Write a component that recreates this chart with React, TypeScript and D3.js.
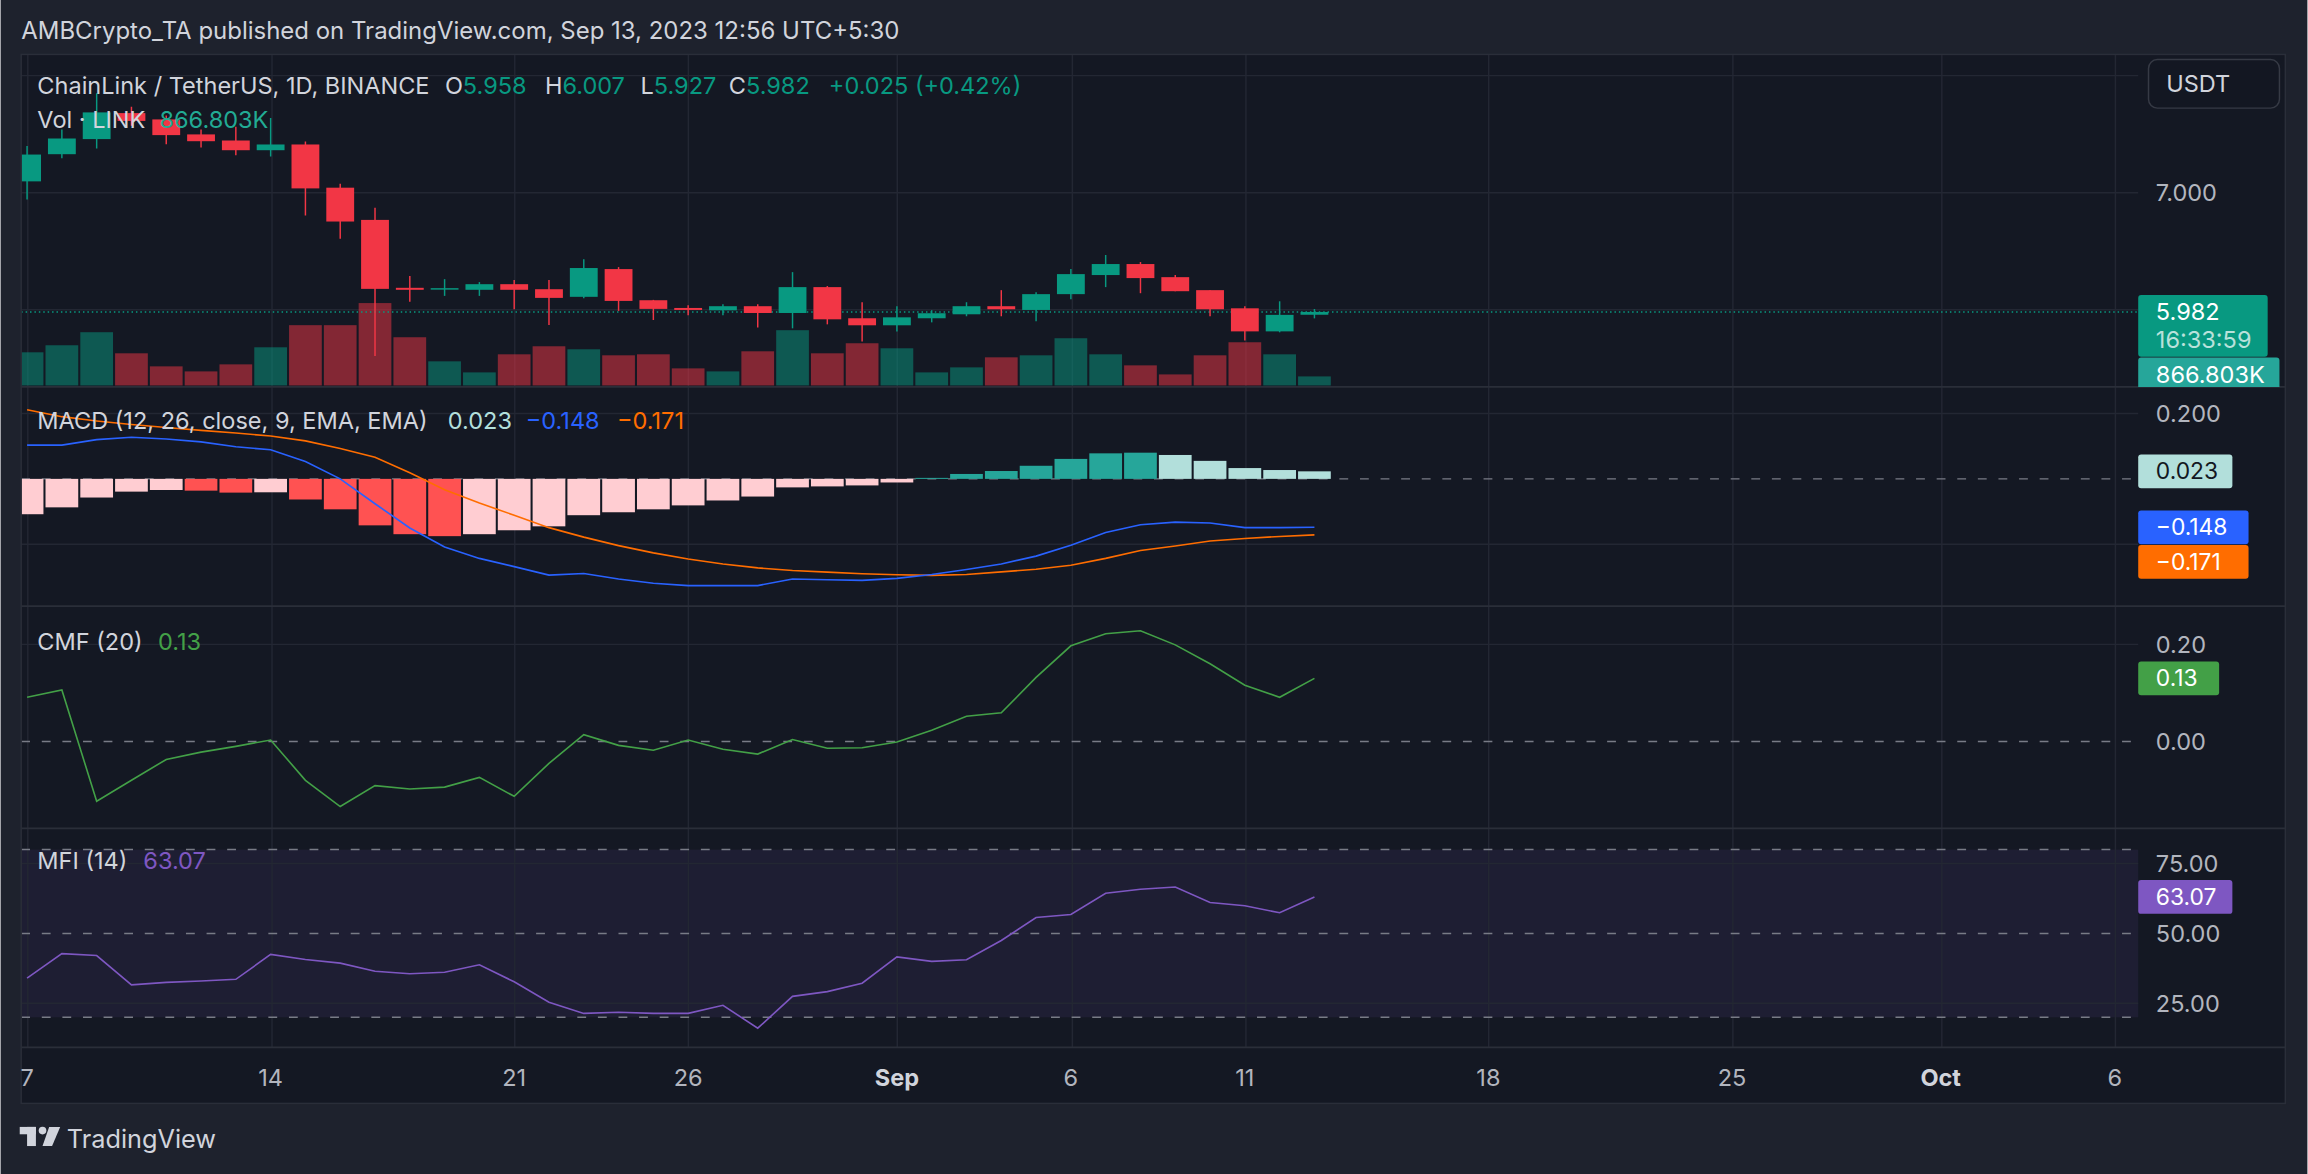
import React from "react";
import * as d3 from "d3";

const W = 1568;
const H = 798;

const dates = [
  "2023-08-07","2023-08-08","2023-08-09","2023-08-10","2023-08-11","2023-08-12","2023-08-13",
  "2023-08-14","2023-08-15","2023-08-16","2023-08-17","2023-08-18","2023-08-19","2023-08-20",
  "2023-08-21","2023-08-22","2023-08-23","2023-08-24","2023-08-25","2023-08-26","2023-08-27",
  "2023-08-28","2023-08-29","2023-08-30","2023-08-31","2023-09-01","2023-09-02","2023-09-03",
  "2023-09-04","2023-09-05","2023-09-06","2023-09-07","2023-09-08","2023-09-09","2023-09-10",
  "2023-09-11","2023-09-12","2023-09-13",
];
const opens = [7.097,7.329,7.458,7.68,7.626,7.498,7.446,7.363,7.412,7.043,6.768,6.188,6.174,6.171,6.219,6.176,6.111,6.348,6.082,6.016,5.996,6.031,5.973,6.194,5.928,5.868,5.928,5.962,6.031,5.999,6.134,6.297,6.391,6.279,6.168,6.013,5.816,5.958];
const highs = [7.4,7.54,7.85,7.735,7.66,7.54,7.563,7.638,7.437,7.077,6.871,6.288,6.262,6.237,6.254,6.254,6.431,6.365,6.085,6.039,6.048,6.048,6.322,6.203,6.065,6.031,5.997,6.065,6.168,6.151,6.348,6.468,6.408,6.297,6.168,6.031,6.073,6.007];
const lows = [6.943,7.295,7.377,7.572,7.415,7.386,7.32,7.309,6.806,6.608,5.605,6.068,6.119,6.119,6.005,5.87,6.099,5.991,5.913,5.953,5.953,5.85,5.842,5.876,5.73,5.816,5.893,5.945,5.945,5.902,6.091,6.194,6.142,6.159,5.945,5.739,5.808,5.927];
const closes = [7.326,7.463,7.686,7.613,7.492,7.44,7.363,7.412,7.037,6.754,6.179,6.171,6.185,6.219,6.171,6.102,6.357,6.076,6.008,5.999,6.031,5.973,6.194,5.919,5.868,5.936,5.971,6.031,6.005,6.134,6.305,6.391,6.271,6.159,6.005,5.816,5.957,5.982];
const volumesK = [3178,3852,5104,3082,1830,1348,2022,3659,5778,5778,7897,4622,2311,1252,2985,3756,3467,2889,2985,1637,1348,3274,5297,3082,4045,3563,1252,1733,2696,2889,4526,2985,1926,1059,2889,4141,2985,866.803];

const macdLine = [0.103,0.103,0.12,0.127,0.122,0.113,0.098,0.089,0.053,0.0,-0.076,-0.15,-0.208,-0.243,-0.268,-0.294,-0.289,-0.306,-0.319,-0.326,-0.326,-0.326,-0.306,-0.308,-0.31,-0.304,-0.292,-0.277,-0.26,-0.236,-0.203,-0.164,-0.14,-0.132,-0.135,-0.149,-0.149,-0.148];
const signalLine = [0.211,0.19,0.177,0.166,0.157,0.148,0.14,0.131,0.116,0.093,0.066,0.019,-0.033,-0.074,-0.111,-0.149,-0.178,-0.204,-0.226,-0.245,-0.26,-0.272,-0.28,-0.285,-0.29,-0.293,-0.295,-0.292,-0.284,-0.276,-0.264,-0.243,-0.219,-0.205,-0.19,-0.182,-0.176,-0.171];
const macdHist = [-0.108,-0.087,-0.057,-0.039,-0.034,-0.036,-0.042,-0.041,-0.063,-0.093,-0.142,-0.169,-0.175,-0.169,-0.157,-0.145,-0.111,-0.102,-0.093,-0.081,-0.066,-0.054,-0.026,-0.023,-0.02,-0.011,0.003,0.015,0.024,0.04,0.061,0.078,0.08,0.073,0.055,0.033,0.027,0.023];

const cmf = [0.091,0.106,-0.123,-0.08,-0.037,-0.022,-0.01,0.003,-0.08,-0.134,-0.091,-0.098,-0.094,-0.074,-0.113,-0.045,0.014,-0.008,-0.018,0.003,-0.016,-0.026,0.004,-0.014,-0.013,-0.001,0.023,0.052,0.059,0.132,0.197,0.222,0.228,0.199,0.16,0.116,0.091,0.13];
const mfi = [34.0,42.8,42.1,31.6,32.5,33.0,33.6,42.5,40.7,39.4,36.5,35.6,36.1,38.8,32.7,25.4,21.4,21.8,21.4,21.4,24.3,16.1,27.5,29.2,32.2,41.6,40.0,40.6,47.5,55.7,56.8,64.4,65.8,66.6,61.1,59.9,57.4,63.07];

const tickDates = ["2023-08-07","2023-08-14","2023-08-21","2023-08-26","2023-09-01","2023-09-06","2023-09-11","2023-09-18","2023-09-25","2023-10-01","2023-10-06"];
const tickLabels = ["7","14","21","26","Sep","6","11","18","25","Oct","6"];
const tickBold = [false,false,false,false,true,false,false,false,false,true,false];

const priceGrid = [8, 7, 6];
const priceLabels = [7];
const macdGrid = [0.2, -0.2];
const macdLabels = [0.2];
const cmfGrid = [0.2];
const cmfLabels = [0.2, 0.0];
const mfiGrid = [75, 25];
const mfiDashed = [80, 50, 20];
const mfiLabels = [75, 50, 25];

// layout (in viewBox units)
const L = 14, R = 1453, AX = 1553;
const TOP = 37, MAIN_B = 263, MACD_B = 412, CMF_B = 563, MFI_B = 712, BOT = 750;

const C = {
  outer: "#1e222d",
  pane: "#141823",
  grid: "#232733",
  sep: "#2a2e39",
  text: "#d1d4dc",
  axis: "#b2b5be",
  up: "#089981",
  down: "#f23645",
  blue: "#2962ff",
  orange: "#ff6d00",
  cmf: "#43a047",
  mfi: "#7e57c2",
};
const FONT = "Inter, 'Noto Sans', sans-serif";

const parse = d3.utcParse("%Y-%m-%d");

export default function App() {
  const dts = dates.map((d) => parse(d) as Date);
  const x = d3.scaleUtc().domain([parse("2023-08-07") as Date, parse("2023-10-06") as Date]).range([18, 1437]);
  const step = x(dts[1]) - x(dts[0]);
  const bodyW = step * 0.8;
  const barW = step - 1.4;

  const yP = d3.scaleLinear().domain([6, 7]).range([210.6, 131]);
  const maxVol = d3.max(volumesK) as number;
  const yV = d3.scaleLinear().domain([0, maxVol]).range([262, 206]);
  const yM = d3.scaleLinear().domain([0, 0.2]).range([325.5, 281]);
  const yC = d3.scaleLinear().domain([0, 0.2]).range([504, 438]);
  const yF = d3.scaleLinear().domain([25, 75]).range([682, 587]);

  const lineOf = (vals: number[], y: (v: number) => number) =>
    d3.line<number>().x((_, i) => x(dts[i])).y((v) => y(v))(vals) as string;

  const histColor = (i: number) => {
    const h = macdHist[i];
    const prev = i === 0 ? h - 1 : macdHist[i - 1];
    if (h >= 0) return h > prev ? "#26a69a" : "#b2dfdb";
    return h > prev ? "#ffcdd2" : "#ff5252";
  };

  const last = dates.length - 1;
  const lastClose = closes[last];
  const prevClose = closes[last - 1];
  const chg = lastClose - prevClose;
  const chgPct = (chg / prevClose) * 100;
  const histBoxY = yM(macdHist[last]);
  const macdBoxY = yM(macdLine[last]);
  const sigBoxY = Math.max(yM(signalLine[last]), macdBoxY + 23.5);

  const fmtMinus = (v: number, p: number) => (v < 0 ? "\u2212" : "") + Math.abs(v).toFixed(p);

  const axisText = (y: number, label: string, key: string) => (
    <text key={key} x={R + 12} y={y} dy="0.36em" fontSize={16} fill={C.axis}>{label}</text>
  );

  const valueBox = (y: number, w: number, fill: string, label: string, color: string, key: string) => (
    <g key={key}>
      <rect x={R} y={y - 11.5} width={w} height={23} rx={2} fill={fill} />
      <text x={R + 12} y={y} dy="0.35em" fontSize={15.5} fill={color}>{label}</text>
    </g>
  );

  return (
    <svg
      width={2308}
      height={1174}
      viewBox={`0 0 ${W} ${H}`}
      style={{ position: "absolute", left: 0, top: 0, display: "block" }}
      fontFamily={FONT}
    >
      <defs>
        <clipPath id="plot">
          <rect x={L} y={TOP} width={R - L} height={MFI_B - TOP} />
        </clipPath>
        <clipPath id="mainpane">
          <rect x={L} y={TOP} width={AX - L} height={MAIN_B - TOP} />
        </clipPath>
      </defs>
      <rect x={0} y={0} width={W} height={H} fill={C.outer} />
      <rect x={L} y={TOP} width={AX - L} height={BOT - TOP} fill={C.pane} />

      {/* header */}
      <text x={14} y={26.5} fontSize={16.3} fill={C.text}>
        AMBCrypto_TA published on TradingView.com, Sep 13, 2023 12:56 UTC+5:30
      </text>

      {/* MFI band */}
      <rect x={L} y={yF(80)} width={R - L} height={yF(20) - yF(80)} fill="rgba(126,87,194,0.1)" />

      {/* vertical grid */}
      {tickDates.map((d, i) => {
        const xx = Math.round(x(parse(d) as Date)) + 0.5;
        return <line key={"vg" + i} x1={xx} x2={xx} y1={TOP} y2={MFI_B} stroke={C.grid} strokeWidth={1} />;
      })}
      {/* horizontal grid */}
      {priceGrid.map((v, i) => (
        <line key={"pg" + i} x1={L} x2={R} y1={yP(v)} y2={yP(v)} stroke={C.grid} />
      ))}
      {macdGrid.map((v, i) => (
        <line key={"mg" + i} x1={L} x2={R} y1={yM(v)} y2={yM(v)} stroke={C.grid} />
      ))}
      {cmfGrid.map((v, i) => (
        <line key={"cg" + i} x1={L} x2={R} y1={yC(v)} y2={yC(v)} stroke={C.grid} />
      ))}
      {mfiGrid.map((v, i) => (
        <line key={"fg" + i} x1={L} x2={R} y1={yF(v)} y2={yF(v)} stroke={C.grid} />
      ))}

      <g clipPath="url(#plot)">
        {/* volume */}
        {volumesK.map((v, i) => (
          <rect
            key={"v" + i}
            x={x(dts[i]) - barW / 2}
            y={yV(v)}
            width={barW}
            height={yV(0) - yV(v)}
            fill={closes[i] >= opens[i] ? C.up : C.down}
            opacity={0.5}
          />
        ))}
        {/* price line */}
        <line x1={L} x2={R} y1={yP(lastClose)} y2={yP(lastClose)} stroke={C.up} strokeWidth={1} strokeDasharray="1 2" />
        {/* candles */}
        {dates.map((_, i) => {
          const col = closes[i] >= opens[i] ? C.up : C.down;
          const cx = x(dts[i]);
          const top = yP(Math.max(opens[i], closes[i]));
          const bot = yP(Math.min(opens[i], closes[i]));
          return (
            <g key={"c" + i}>
              <line x1={cx} x2={cx} y1={yP(highs[i])} y2={yP(lows[i])} stroke={col} strokeWidth={1} />
              <rect x={cx - bodyW / 2} y={top} width={bodyW} height={Math.max(1, bot - top)} fill={col} />
            </g>
          );
        })}

        {/* MACD */}
        <line x1={L} x2={R} y1={yM(0)} y2={yM(0)} stroke="#787b86" strokeDasharray="6 8" />
        {macdHist.map((h, i) => (
          <rect
            key={"h" + i}
            x={x(dts[i]) - barW / 2}
            y={Math.min(yM(h), yM(0))}
            width={barW}
            height={Math.abs(yM(h) - yM(0))}
            fill={histColor(i)}
          />
        ))}
        <path d={lineOf(signalLine, yM)} fill="none" stroke={C.orange} strokeWidth={1.1} />
        <path d={lineOf(macdLine, yM)} fill="none" stroke={C.blue} strokeWidth={1.1} />

        {/* CMF */}
        <line x1={L} x2={R} y1={yC(0)} y2={yC(0)} stroke="#787b86" strokeDasharray="6 8" />
        <path d={lineOf(cmf, yC)} fill="none" stroke={C.cmf} strokeWidth={1.1} />

        {/* MFI */}
        {mfiDashed.map((v, i) => (
          <line key={"fd" + i} x1={L} x2={R} y1={yF(v)} y2={yF(v)} stroke="#787b86" strokeDasharray="6 8" />
        ))}
        <path d={lineOf(mfi, yF)} fill="none" stroke={C.mfi} strokeWidth={1.1} />
      </g>

      {/* pane separators and frame */}
      {[MAIN_B, MACD_B, CMF_B, MFI_B].map((y, i) => (
        <line key={"sep" + i} x1={L} x2={AX} y1={y} y2={y} stroke={C.sep} strokeWidth={1.2} />
      ))}
      <rect x={L} y={TOP} width={AX - L} height={BOT - TOP} fill="none" stroke={C.sep} strokeWidth={1} />

      {/* legends */}
      <g fontSize={16} fill={C.text}>
        <text x={25} y={58} dy="0.36em">ChainLink / TetherUS, 1D, BINANCE</text>
        <text x={302} y={58} dy="0.36em">O<tspan fill={C.up}>{opens[last].toFixed(3)}</tspan></text>
        <text x={370} y={58} dy="0.36em">H<tspan fill={C.up}>{highs[last].toFixed(3)}</tspan></text>
        <text x={435} y={58} dy="0.36em">L<tspan fill={C.up}>{lows[last].toFixed(3)}</tspan></text>
        <text x={495} y={58} dy="0.36em">C<tspan fill={C.up}>{closes[last].toFixed(3)}</tspan></text>
        <text x={563} y={58} dy="0.36em" fill={C.up}>
          +{chg.toFixed(3)} (+{chgPct.toFixed(2)}%)
        </text>
        <text x={25} y={81} dy="0.36em">Vol · LINK</text>
        <text x={108} y={81} dy="0.36em" fill="#22ab94">{volumesK[last].toFixed(3)}K</text>

        <text x={25} y={286} dy="0.36em">MACD (12, 26, close, 9, EMA, EMA)</text>
        <text x={304} y={286} dy="0.36em" fill="#b2dfdb">{fmtMinus(macdHist[last], 3)}</text>
        <text x={357} y={286} dy="0.36em" fill={C.blue}>{fmtMinus(macdLine[last], 3)}</text>
        <text x={419} y={286} dy="0.36em" fill={C.orange}>{fmtMinus(signalLine[last], 3)}</text>

        <text x={25} y={436} dy="0.36em">CMF (20)</text>
        <text x={107} y={436} dy="0.36em" fill={C.cmf}>{cmf[last].toFixed(2)}</text>

        <text x={25} y={585} dy="0.36em">MFI (14)</text>
        <text x={97} y={585} dy="0.36em" fill={C.mfi}>{mfi[last].toFixed(2)}</text>
      </g>

      {/* price axis */}
      {priceLabels.map((v, i) => axisText(yP(v), v.toFixed(3), "pl" + i))}
      {macdLabels.map((v, i) => axisText(yM(v), v.toFixed(3), "ml" + i))}
      {cmfLabels.map((v, i) => axisText(yC(v), v.toFixed(2), "cl" + i))}
      {mfiLabels.map((v, i) => axisText(yF(v), v.toFixed(2), "fl" + i))}

      <rect x={1460} y={40.5} width={89} height={33} rx={6} fill="#131722" stroke="#363a45" />
      <text x={1472} y={57} dy="0.36em" fontSize={16} fill={C.text}>USDT</text>

      <g clipPath="url(#mainpane)">
        <rect x={R} y={yP(lastClose) - 11.5} width={88} height={42} rx={2} fill={C.up} />
        <text x={R + 12} y={yP(lastClose)} dy="0.36em" fontSize={16} fill="#ffffff">{lastClose.toFixed(3)}</text>
        <text x={R + 12} y={yP(lastClose) + 19} dy="0.36em" fontSize={16} fill="rgba(255,255,255,0.72)">16:33:59</text>
        <rect x={R} y={yP(lastClose) + 31} width={96} height={23} rx={2} fill="#26a69a" />
        <text x={R + 12} y={yP(lastClose) + 42.5} dy="0.36em" fontSize={16} fill="#ffffff">{volumesK[last].toFixed(3)}K</text>
      </g>

      {valueBox(histBoxY, 64, "#b2dfdb", fmtMinus(macdHist[last], 3), "#131722", "b1")}
      {valueBox(macdBoxY, 75, C.blue, fmtMinus(macdLine[last], 3), "#ffffff", "b2")}
      {valueBox(sigBoxY, 75, C.orange, fmtMinus(signalLine[last], 3), "#ffffff", "b3")}
      {valueBox(yC(cmf[last]), 55, C.cmf, cmf[last].toFixed(2), "#ffffff", "b4")}
      {valueBox(yF(mfi[last]), 64, C.mfi, mfi[last].toFixed(2), "#ffffff", "b5")}

      {/* time axis */}
      {tickDates.map((d, i) => (
        <text
          key={"tl" + i}
          x={x(parse(d) as Date)}
          y={732.5}
          dy="0.36em"
          textAnchor="middle"
          fontSize={16}
          fontWeight={tickBold[i] ? 700 : 400}
          fill={tickBold[i] ? C.text : C.axis}
        >
          {tickLabels[i]}
        </text>
      ))}

      {/* TradingView logo */}
      <g fill={C.text}>
        <rect x={13} y={766} width={11} height={5} />
        <rect x={18} y={766} width={6} height={13} />
        <circle cx={28.5} cy={768.5} r={2.6} />
        <polygon points="33,766 40.5,766 35,779 28.5,779" />
        <text x={45} y={774} dy="0.36em" fontSize={17.2} fill={C.text}>TradingView</text>
      </g>
    </svg>
  );
}
